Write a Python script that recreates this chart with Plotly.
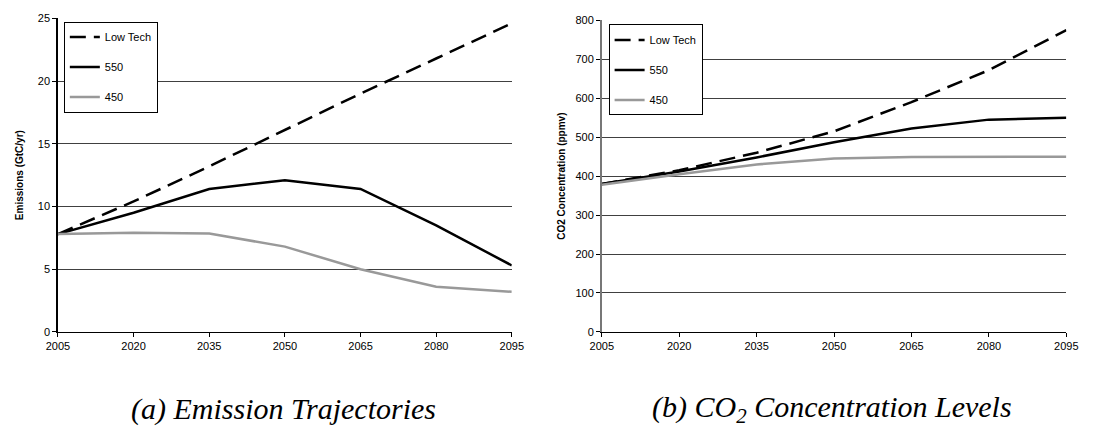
import plotly.graph_objects as go

years = [2005, 2020, 2035, 2050, 2065, 2080, 2095]
series_names = ["Low Tech", "550", "450"]

emis_lowtech = [7.8, 10.4, 13.2, 16.1, 19.0, 21.8, 24.6]
emis_550 = [7.8, 9.5, 11.4, 12.1, 11.4, 8.5, 5.3]
emis_450 = [7.8, 7.9, 7.85, 6.8, 5.0, 3.6, 3.2]

conc_lowtech = [380, 415, 460, 515, 590, 672, 775]
conc_550 = [380, 412, 448, 487, 522, 545, 550]
conc_450 = [378, 405, 430, 445, 449, 450, 450]

emis_ticks = [0, 5, 10, 15, 20, 25]
conc_ticks = [0, 100, 200, 300, 400, 500, 600, 700, 800]

styles = [
    dict(color="black", width=2.5, dash="16px,8px"),
    dict(color="black", width=2.5),
    dict(color="#999999", width=2.5),
]

fig = go.Figure()
for i, (name, ys) in enumerate(zip(series_names, [emis_lowtech, emis_550, emis_450])):
    fig.add_trace(go.Scatter(x=years, y=ys, mode="lines", name=name, line=styles[i],
                             xaxis="x", yaxis="y", legend="legend", legendgroup="a" + name))
for i, (name, ys) in enumerate(zip(series_names, [conc_lowtech, conc_550, conc_450])):
    fig.add_trace(go.Scatter(x=years, y=ys, mode="lines", name=name, line=styles[i],
                             xaxis="x2", yaxis="y2", legend="legend2", legendgroup="b" + name))

W, H = 1093, 443
axfont = dict(family="Liberation Sans", size=11, color="black")
titlefont = dict(family="Liberation Sans", size=10, color="black")

xcommon = dict(range=[2005, 2095], tickvals=years, showgrid=False, showline=True,
               linecolor="black", linewidth=1, ticks="outside", ticklen=4, tickcolor="black",
               tickfont=axfont, zeroline=False)
ycommon = dict(showgrid=True, gridcolor="#404040", gridwidth=1, showline=True,
               linewidth=1.5, ticks="outside", ticklen=4, tickcolor="black",
               tickfont=axfont, zeroline=False)

fig.update_layout(
    width=W, height=H, margin=dict(l=0, r=0, t=0, b=0),
    plot_bgcolor="white", paper_bgcolor="white",
    xaxis=dict(domain=[47 / W, 511 / W], anchor="y", **xcommon),
    yaxis=dict(domain=[1 - 335 / H, 1 - 12.7 / H], anchor="x", range=[0, 25], tickvals=emis_ticks,
               linecolor="black",
               title=dict(text="<b>Emissions (GtC/yr)</b>", font=titlefont, standoff=12),
               **ycommon),
    xaxis2=dict(domain=[603 / W, 1078 / W], anchor="y2", **xcommon),
    yaxis2=dict(domain=[1 - 335 / H, 1 - 14.7 / H], anchor="x2", range=[0, 800], tickvals=conc_ticks,
                linecolor="#777777",
                title=dict(text="<b>CO2 Concentration (ppmv)</b>", font=titlefont, standoff=8),
                **ycommon),
    legend=dict(x=53 / W, y=1 - 16 / H, xanchor="left", yanchor="top", bgcolor="white",
                bordercolor="black", borderwidth=1, font=axfont, tracegroupgap=11,
                itemwidth=30),
    legend2=dict(x=610 / W, y=1 - 19 / H, xanchor="left", yanchor="top", bgcolor="white",
                 bordercolor="black", borderwidth=1, font=axfont, tracegroupgap=11,
                 itemwidth=30),
    showlegend=True,
)

capfont = dict(family="Liberation Serif", size=30, color="black", style="italic")
fig.add_annotation(text="(a) Emission Trajectories", x=278 / W, y=1 - 414 / H,
                   xref="paper", yref="paper", showarrow=False, font=capfont,
                   xanchor="center", yanchor="middle")
fig.add_annotation(text="(b) CO<sub>2</sub> Concentration Levels", x=838 / W, y=1 - 414 / H,
                   xref="paper", yref="paper", showarrow=False, font=capfont,
                   xanchor="center", yanchor="middle")

fig.write_html("out.html")
